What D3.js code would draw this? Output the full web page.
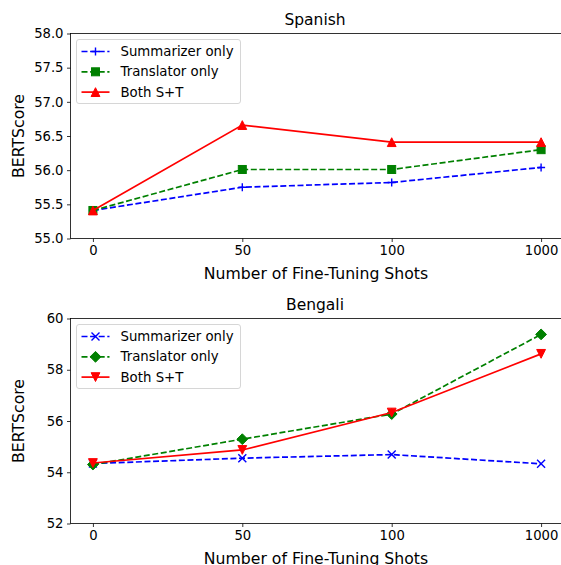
<!DOCTYPE html>
<html>
<head>
<meta charset="utf-8">
<script src="https://cdn.jsdelivr.net/npm/d3@7"></script>
<style>
  html, body { margin: 0; padding: 0; background: #fff; }
  svg { display: block; font-family: "DejaVu Sans", sans-serif; }
</style>
</head>
<body>
<svg id="chart" width="561" height="565"></svg>
<script>
// ---- data ----
const shots = ["0", "50", "100", "1000"];
const seriesNames = ["Summarizer only", "Translator only", "Both S+T"];

const spanishSummarizer = [55.41, 55.75, 55.82, 56.04];
const spanishTranslator = [55.41, 56.01, 56.01, 56.30];
const spanishBoth       = [55.41, 56.66, 56.41, 56.41];
const spanishYTicks = [55.0, 55.5, 56.0, 56.5, 57.0, 57.5, 58.0];

const bengaliSummarizer = [54.34, 54.55, 54.69, 54.33];
const bengaliTranslator = [54.30, 55.29, 56.27, 59.38];
const bengaliBoth       = [54.36, 54.87, 56.33, 58.62];
const bengaliYTicks = [52, 54, 56, 58, 60];

// ---- layout / style ----
const svg = d3.select("#chart");
const left = 70.5, right = 563.5;
const panels = [
  { title: "Spanish", top: 33.5, bottom: 238.5, yDomain: [55, 58], ticks: spanishYTicks, fmt: d3.format(".1f"),
    series: [spanishSummarizer, spanishTranslator, spanishBoth], markers: ["plus", "square", "triUp"] },
  { title: "Bengali", top: 318.5, bottom: 523.5, yDomain: [52, 60], ticks: bengaliYTicks, fmt: d3.format("d"),
    series: [bengaliSummarizer, bengaliTranslator, bengaliBoth], markers: ["x", "diamond", "triDown"] }
];
const colors = ["#0000ff", "#008000", "#ff0000"];
const dashes = ["6,2.6", "6,2.6", null];
const lw = 1.7;
const ms = 8;

function drawMarker(g, type, x, y, color) {
  const h = ms / 2;
  if (type === "plus") {
    g.append("path").attr("d", `M${x - h},${y}H${x + h}M${x},${y - h}V${y + h}`)
      .attr("stroke", color).attr("stroke-width", 1.4).attr("fill", "none");
  } else if (type === "x") {
    g.append("path").attr("d", `M${x - h},${y - h}L${x + h},${y + h}M${x - h},${y + h}L${x + h},${y - h}`)
      .attr("stroke", color).attr("stroke-width", 1.4).attr("fill", "none");
  } else if (type === "square") {
    g.append("rect").attr("x", x - h).attr("y", y - h).attr("width", ms).attr("height", ms)
      .attr("fill", color).attr("stroke", color).attr("stroke-width", 1);
  } else if (type === "diamond") {
    const d = h * 1.35;
    g.append("path").attr("d", `M${x},${y - d}L${x + d},${y}L${x},${y + d}L${x - d},${y}Z`)
      .attr("fill", color).attr("stroke", color).attr("stroke-width", 1);
  } else if (type === "triUp") {
    const t = h * 1.1;
    g.append("path").attr("d", `M${x},${y - t}L${x + t},${y + t}L${x - t},${y + t}Z`)
      .attr("fill", color).attr("stroke", color).attr("stroke-width", 1);
  } else if (type === "triDown") {
    const t = h * 1.1;
    g.append("path").attr("d", `M${x},${y + t}L${x + t},${y - t}L${x - t},${y - t}Z`)
      .attr("fill", color).attr("stroke", color).attr("stroke-width", 1);
  }
}

const x = d3.scaleLinear().domain([-0.15, 3.15]).range([left, right]);

panels.forEach(p => {
  const y = d3.scaleLinear().domain(p.yDomain).range([p.bottom, p.top]);
  const g = svg.append("g");

  // axes
  const xAxis = d3.axisBottom(x).tickValues(d3.range(shots.length)).tickFormat(i => shots[i])
    .tickSize(3.5).tickPadding(3.5);
  const gx = g.append("g").attr("transform", `translate(0,${p.bottom})`).call(xAxis);
  const yAxis = d3.axisLeft(y).tickValues(p.ticks).tickFormat(p.fmt).tickSize(3.5).tickPadding(3.5);
  const gy = g.append("g").attr("transform", `translate(${left},0)`).call(yAxis);
  [gx, gy].forEach(a => {
    a.select(".domain").remove();
    a.selectAll(".tick line").attr("stroke", "#000").attr("stroke-width", 0.8);
    a.selectAll(".tick text").attr("fill", "#000").style("font-size", "13.2px")
      .style("font-family", "DejaVu Sans, sans-serif");
  });

  // frame
  g.append("rect").attr("x", left).attr("y", p.top).attr("width", right - left).attr("height", p.bottom - p.top)
    .attr("fill", "none").attr("stroke", "#000").attr("stroke-width", 0.8);

  // series
  p.series.forEach((vals, si) => {
    const line = d3.line().x((d, i) => x(i)).y(d => y(d));
    g.append("path").datum(vals).attr("d", line).attr("fill", "none")
      .attr("stroke", colors[si]).attr("stroke-width", lw)
      .attr("stroke-dasharray", dashes[si]);
    vals.forEach((v, i) => drawMarker(g, p.markers[si], x(i), y(v), colors[si]));
  });

  // titles / labels
  g.append("text").attr("x", 315).attr("y", p.top - 13.5)
    .attr("text-anchor", "middle").attr("dominant-baseline", "central")
    .style("font-size", "15.5px").text(p.title);
  g.append("text").attr("x", 316).attr("y", p.bottom + 35)
    .attr("text-anchor", "middle").attr("dominant-baseline", "central")
    .style("font-size", "15.7px").text("Number of Fine-Tuning Shots");
  g.append("text").attr("transform", `translate(18,${(p.top + p.bottom) / 2}) rotate(-90)`)
    .attr("text-anchor", "middle").attr("dominant-baseline", "central")
    .style("font-size", "15.7px").text("BERTScore");

  // legend
  const lx = 76.5, ly = p.top + 6, lwid = 164, lh = 64;
  const lg = g.append("g");
  lg.append("rect").attr("x", lx).attr("y", ly).attr("width", lwid).attr("height", lh)
    .attr("rx", 2.5).attr("fill", "rgba(255,255,255,0.8)").attr("stroke", "#cccccc").attr("stroke-width", 0.8);
  seriesNames.forEach((name, si) => {
    const ry = ly + 12 + si * 20.3;
    lg.append("path").attr("d", `M${lx + 5},${ry}H${lx + 33}`).attr("stroke", colors[si])
      .attr("stroke-width", lw).attr("stroke-dasharray", dashes[si]).attr("fill", "none");
    drawMarker(lg, p.markers[si], lx + 19, ry, colors[si]);
    lg.append("text").attr("x", lx + 44).attr("y", ry).attr("dominant-baseline", "central")
      .style("font-size", "13.3px").attr("fill", "#000").text(name);
  });
});
</script>
</body>
</html>
